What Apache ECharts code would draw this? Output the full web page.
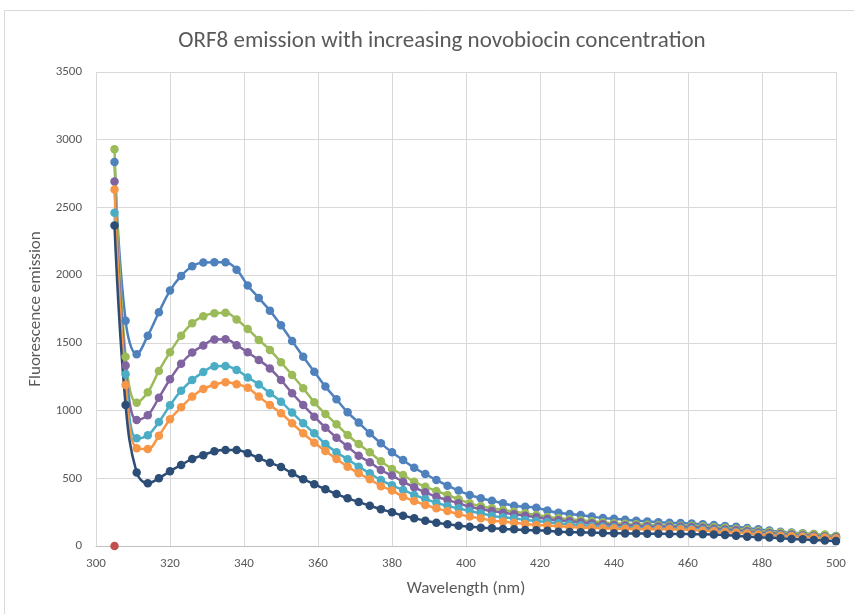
<!DOCTYPE html>
<html>
<head>
<meta charset="utf-8">
<script src="https://cdn.jsdelivr.net/npm/echarts@6/dist/echarts.min.js"></script>
<style>
  html, body { margin: 0; padding: 0; background: #fff; }
  #main { width: 854px; height: 614px; }
</style>
</head>
<body>
<div id="main"></div>
<script>
// wavelengths (nm)
var wavelengths = [305, 308, 311, 314, 317, 320, 323, 326, 329, 332,
    335, 338, 341, 344, 347, 350, 353, 356, 359, 362,
    365, 368, 371, 374, 377, 380, 383, 386, 389, 392,
    395, 398, 401, 404, 407, 410, 413, 416, 419, 422,
    425, 428, 431, 434, 437, 440, 443, 446, 449, 452,
    455, 458, 461, 464, 467, 470, 473, 476, 479, 482,
    485, 488, 491, 494, 497, 500];

// emission, one array per curve (top curve first)
var blueVals = [2836, 1664, 1416, 1553, 1726, 1886, 1994, 2066, 2093, 2095,
    2095, 2040, 1924, 1831, 1738, 1630, 1514, 1398, 1287, 1177,
    1083, 987, 911, 832, 758, 692, 635, 578, 532, 487,
    445, 409, 377, 352, 335, 315, 298, 290, 283, 262,
    245, 236, 229, 217, 206, 201, 193, 187, 181, 176,
    172, 169, 166, 160, 155, 148, 142, 132, 123, 114,
    106, 99, 94, 88, 81, 74];
var greenVals = [2930, 1398, 1058, 1135, 1293, 1431, 1553, 1645, 1697, 1718,
    1722, 1673, 1603, 1522, 1448, 1357, 1263, 1165, 1061, 975,
    899, 820, 753, 692, 625, 569, 524, 475, 438, 406,
    377, 345, 315, 295, 278, 266, 253, 241, 229, 215,
    206, 198, 190, 183, 175, 168, 164, 160, 156, 153,
    151, 150, 150, 145, 140, 134, 128, 121, 110, 105,
    100, 96, 92, 88, 85, 72];
var purpleVals = [2691, 1332, 931, 965, 1095, 1231, 1346, 1428, 1481, 1524,
    1527, 1483, 1430, 1374, 1311, 1226, 1128, 1041, 955, 874,
    800, 734, 667, 618, 561, 520, 475, 433, 396, 364,
    340, 315, 290, 273, 258, 246, 234, 224, 212, 199,
    190, 182, 175, 168, 160, 155, 152, 149, 146, 144,
    143, 142, 140, 134, 128, 122, 116, 108, 100, 94,
    89, 84, 80, 75, 70, 64];
var tealVals = [2460, 1268, 795, 818, 916, 1039, 1147, 1226, 1284, 1327,
    1329, 1300, 1245, 1193, 1128, 1066, 985, 906, 832, 753,
    692, 640, 586, 537, 487, 448, 414, 377, 347, 320,
    295, 278, 258, 241, 224, 212, 205, 192, 185, 177,
    168, 160, 154, 148, 142, 138, 135, 133, 131, 130,
    130, 129, 126, 120, 115, 110, 104, 98, 90, 85,
    80, 76, 72, 68, 64, 58];
var orangeVals = [2632, 1189, 721, 716, 815, 936, 1024, 1103, 1160, 1191,
    1210, 1195, 1168, 1103, 1041, 980, 906, 832, 763, 702,
    643, 586, 537, 493, 442, 410, 364, 332, 303, 278,
    258, 236, 217, 205, 187, 180, 172, 162, 155, 152,
    146, 141, 137, 134, 131, 129, 127, 125, 124, 123,
    123, 122, 118, 113, 108, 103, 98, 92, 85, 80,
    76, 72, 68, 64, 60, 55];
var navyVals = [2366, 1041, 542, 463, 500, 552, 598, 643, 671, 700,
    709, 709, 685, 649, 615, 583, 537, 493, 456, 419,
    384, 352, 325, 298, 271, 249, 224, 205, 187, 172,
    160, 150, 143, 135, 131, 126, 123, 118, 116, 112,
    106, 103, 101, 99, 96, 94, 93, 92, 91, 90,
    89, 89, 88, 87, 85, 81, 75, 69, 64, 62,
    57, 52, 49, 44, 40, 36];
// lone point sitting on the axis
var redX = [305];
var redVals = [0];

var fontFam = 'Carlito, Lato, sans-serif';
var txtColor = '#595959';

function pairs(xs, ys) {
    var out = [];
    for (var i = 0; i < ys.length; i++) out.push([xs[i], ys[i]]);
    return out;
}

function curve(vals, xs, color) {
    return {
        type: 'line',
        data: pairs(xs, vals),
        smooth: 0.4,
        symbol: 'circle',
        symbolSize: 8.5,
        showSymbol: true,
        lineStyle: { color: color, width: 2.5 },
        itemStyle: { color: color },
        emphasis: { disabled: true }
    };
}

var chart = echarts.init(document.getElementById('main'));

var option = {
    animation: false,
    backgroundColor: '#fff',
    title: {
        text: 'ORF8 emission with increasing novobiocin concentration',
        left: 437,
        textAlign: 'center',
        top: 25,
        textStyle: { fontFamily: fontFam, fontSize: 23, fontWeight: 'normal', color: txtColor }
    },
    graphic: [{
        type: 'rect',
        shape: { x: 4.5, y: 10.5, width: 900, height: 700 },
        style: { fill: 'none', stroke: '#d9d9d9', lineWidth: 1 },
        silent: true
    }],
    grid: { left: 96, right: 18, top: 72, bottom: 68 },
    xAxis: {
        type: 'value',
        min: 300,
        max: 500,
        interval: 20,
        name: 'Wavelength (nm)',
        nameLocation: 'middle',
        nameGap: 34,
        nameTextStyle: { fontFamily: fontFam, fontSize: 17, color: txtColor },
        axisLine: { show: true, lineStyle: { color: '#bfbfbf', width: 1 } },
        axisTick: { show: false },
        axisLabel: { fontFamily: fontFam, fontSize: 13, color: txtColor, margin: 11 },
        splitLine: { show: true, lineStyle: { color: '#d9d9d9', width: 1 } }
    },
    yAxis: {
        type: 'value',
        min: 0,
        max: 3500,
        interval: 500,
        name: 'Fluorescence emission',
        nameLocation: 'middle',
        nameGap: 49,
        nameTextStyle: { fontFamily: fontFam, fontSize: 17, color: txtColor },
        axisLine: { show: false },
        axisTick: { show: false },
        axisLabel: {
            fontFamily: fontFam, fontSize: 13, color: txtColor, margin: 14,
            formatter: function (v) { return String(v); }
        },
        splitLine: { show: true, lineStyle: { color: '#d9d9d9', width: 1 } }
    },
    series: [
        curve(blueVals, wavelengths, '#4F81BD'),
        curve(redVals, redX, '#C0504D'),
        curve(greenVals, wavelengths, '#9BBB59'),
        curve(purpleVals, wavelengths, '#8064A2'),
        curve(tealVals, wavelengths, '#4BACC6'),
        curve(orangeVals, wavelengths, '#F79646'),
        curve(navyVals, wavelengths, '#2C4D75')
    ]
};

chart.setOption(option);
</script>
</body>
</html>
